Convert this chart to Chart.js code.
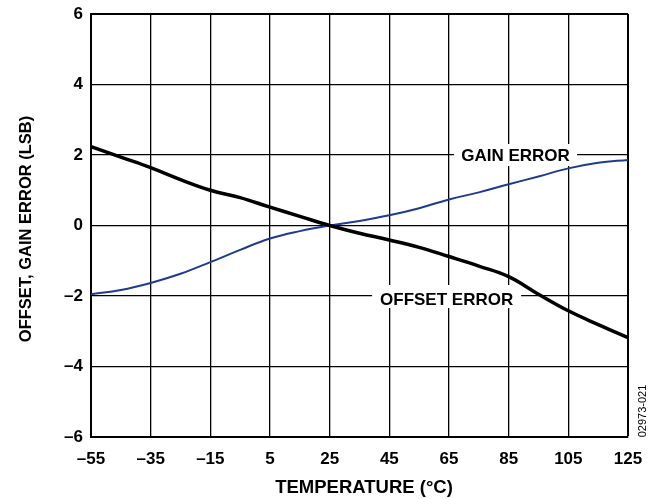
<!DOCTYPE html>
<html><head><meta charset="utf-8">
<script src="https://cdn.jsdelivr.net/npm/chart.js@4"></script>
<style>html,body{margin:0;padding:0;background:#fff}canvas{display:block}</style>
</head><body>
<canvas id="c" width="662" height="499"></canvas>
<script>
// ---- data ----
const temps = [-55,-45,-35,-25,-15,-5,5,15,25,35,45,55,65,75,85,95,105,115,125];
const offsetError = [2.24,1.94,1.64,1.30,1.00,0.79,0.52,0.26,0.00,-0.22,-0.41,-0.62,-0.88,-1.15,-1.45,-1.95,-2.42,-2.81,-3.18];
const gainError = [-1.95,-1.83,-1.63,-1.37,-1.04,-0.69,-0.37,-0.16,0.00,0.13,0.29,0.49,0.74,0.94,1.17,1.39,1.62,1.78,1.86];
const xTickValues = [-55,-35,-15,5,25,45,65,85,105,125];
const yTickValues = [-6,-4,-2,0,2,4,6];
const seriesNames = ['OFFSET ERROR','GAIN ERROR'];
const xTitle = 'TEMPERATURE (\u00B0C)';
const yTitle = 'OFFSET, GAIN ERROR (LSB)';
const figureCode = '02973-021';

const FONT = "'Liberation Sans', Arial, Helvetica, sans-serif";
const fmt = v => v < 0 ? '\u2013' + Math.abs(v) : String(v);

const labelCfg = [
  {text: seriesNames[1], x: 87.3, y: 2, dy: 0, w: 123, top: -11, bottom: 11},
  {text: seriesNames[0], x: 64.2, y: -2, dy: 3, w: 149, top: -11, bottom: 12}
];

const decor = {
  id: 'decor',
  beforeDatasetsDraw(chart) {
    const {ctx, scales: {x, y}} = chart;
    ctx.save();
    ctx.font = 'bold 17px ' + FONT;
    ctx.textAlign = 'center';
    ctx.textBaseline = 'middle';
    labelCfg.forEach(l => {
      const px = x.getPixelForValue(l.x), py = y.getPixelForValue(l.y);
      ctx.fillStyle = '#fff';
      ctx.fillRect(px - l.w / 2, py + l.top, l.w, l.bottom - l.top);
      ctx.fillStyle = '#000';
      ctx.fillText(l.text, px, py + l.dy + 1);
    });
    ctx.restore();
  },
  afterDraw(chart) {
    const {ctx} = chart;
    ctx.save();
    ctx.fillStyle = '#000';
    ctx.textAlign = 'center';
    ctx.textBaseline = 'alphabetic';
    ctx.font = 'bold 18.5px ' + FONT;
    ctx.fillText(xTitle, 364, 493);
    ctx.save();
    ctx.translate(31, 229);
    ctx.rotate(-Math.PI / 2);
    ctx.font = 'bold 16.5px ' + FONT;
    ctx.fillText(yTitle, 0, 0);
    ctx.restore();
    ctx.save();
    ctx.translate(646, 411);
    ctx.rotate(-Math.PI / 2);
    ctx.font = '11px ' + FONT;
    ctx.fillText(figureCode, 0, 0);
    ctx.restore();
    ctx.restore();
  }
};

new Chart(document.getElementById('c'), {
  type: 'line',
  data: {
    datasets: [
      {label: seriesNames[0], data: temps.map((t, i) => ({x: t, y: offsetError[i]})),
       borderColor: '#000', borderWidth: 3.5, pointRadius: 0, tension: 0.4, fill: false},
      {label: seriesNames[1], data: temps.map((t, i) => ({x: t, y: gainError[i]})),
       borderColor: '#1f3c8c', borderWidth: 2, pointRadius: 0, tension: 0.4, fill: false}
    ]
  },
  options: {
    responsive: false,
    animation: false,
    devicePixelRatio: 1,
    layout: {padding: {left: 0, top: 14, right: 34, bottom: 0}},
    plugins: {legend: {display: false}, tooltip: {enabled: false}},
    scales: {
      x: {
        type: 'linear', min: -55, max: 125,
        afterBuildTicks: s => { s.ticks = xTickValues.map(v => ({value: v})); },
        afterFit: s => { s.height = 62; s.paddingLeft = 0; s.paddingRight = 0; },
        grid: {color: '#000', drawTicks: false,
               lineWidth: c => (c.tick && c.tick.value === 125) ? 2 : 1.3},
        border: {color: '#000', width: 2},
        ticks: {color: '#000', padding: 12, maxRotation: 0, autoSkip: false,
                font: {family: FONT, size: 17, weight: 'bold'}, callback: v => fmt(v)}
      },
      y: {
        type: 'linear', min: -6, max: 6,
        afterBuildTicks: s => { s.ticks = yTickValues.map(v => ({value: v})); },
        afterFit: s => { s.width = 91; s.paddingTop = 0; s.paddingBottom = 0; },
        grid: {color: '#000', drawTicks: false,
               lineWidth: c => (c.tick && c.tick.value === 6) ? 2 : 1.3},
        border: {color: '#000', width: 2},
        ticks: {color: '#000', padding: 8, autoSkip: false,
                font: {family: FONT, size: 17, weight: 'bold'}, callback: v => fmt(v)}
      }
    }
  },
  plugins: [decor]
});
</script>
</body></html>
